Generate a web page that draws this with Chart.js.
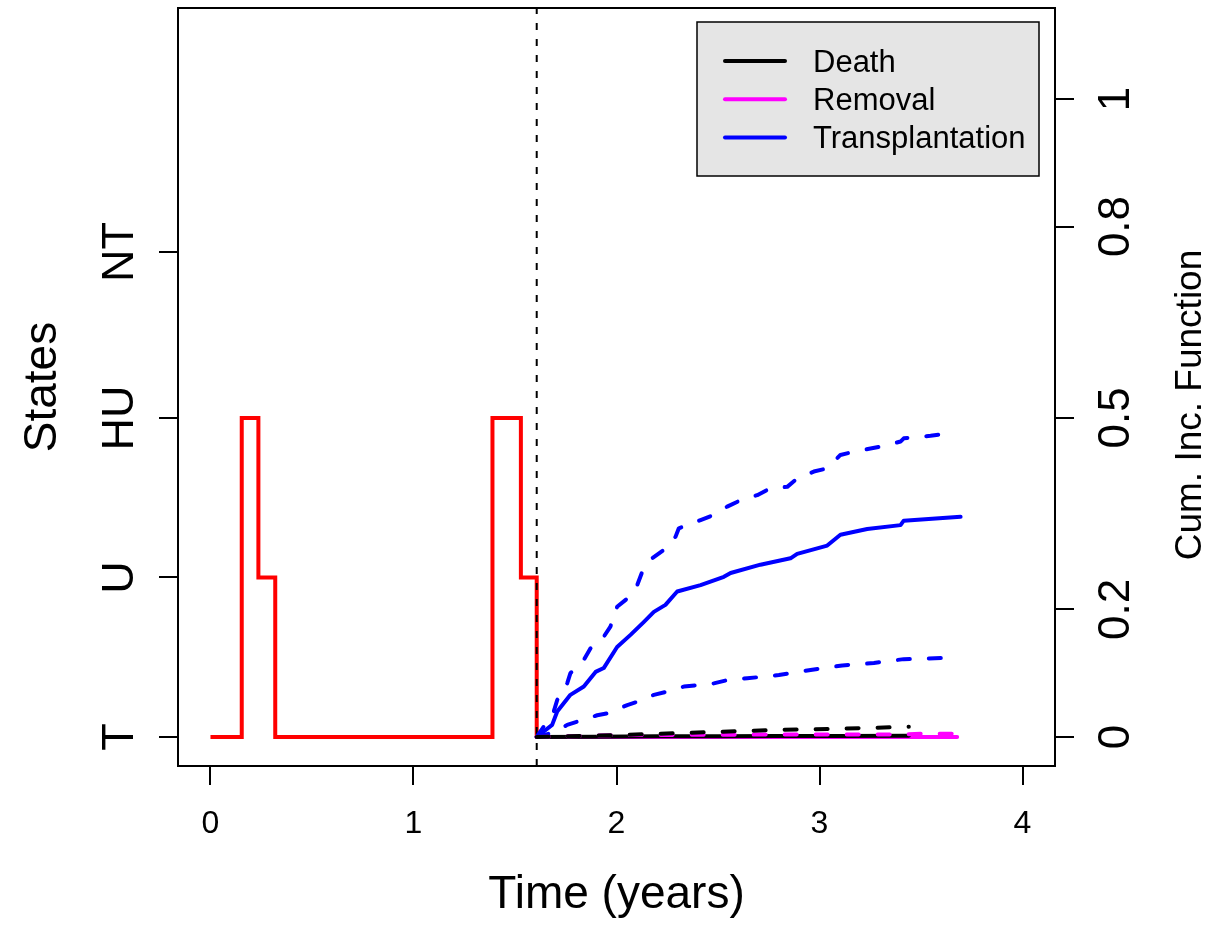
<!DOCTYPE html>
<html>
<head>
<meta charset="utf-8">
<script src="https://cdn.jsdelivr.net/npm/chart.js@4.4.1/dist/chart.umd.min.js"></script>
<style>
  body { margin: 0; background: #fff; }
  #wrap { width: 1216px; height: 928px; }
</style>
</head>
<body>
<div id="wrap"><canvas id="chart" width="1216" height="928"></canvas></div>
<script>
/*--------------------DATA--------------------*/
// observed state path of the patient (held until next change)
const pathTimes  = [0, 0.154, 0.236, 0.319, 1.389, 1.529, 1.607];
const pathStates = ['T', 'HU', 'U', 'T', 'HU', 'U', 'T'];

// where each state sits on the left axis
const stateNames  = ['T', 'U', 'HU', 'NT'];
const stateLevels = [0, 0.25, 0.5, 0.76];

// prediction time (dashed vertical)
const predTime = 1.607;

// cumulative incidence of transplantation + 95% band
const transTimes = [1.607, 1.683, 1.708, 1.773, 1.839, 1.897, 1.937, 2.003, 2.069, 2.134, 2.184, 2.241, 2.299, 2.414, 2.529, 2.562, 2.709, 2.857, 2.890, 3.038, 3.103, 3.235, 3.399, 3.415, 3.695];
const transCif   = [0, 0.019, 0.040, 0.066, 0.079, 0.102, 0.108, 0.141, 0.160, 0.180, 0.196, 0.207, 0.228, 0.238, 0.251, 0.257, 0.270, 0.280, 0.287, 0.300, 0.317, 0.326, 0.332, 0.339, 0.345];
const transUpTimes = [1.607, 1.691, 1.708, 1.757, 1.773, 1.839, 1.872, 1.937, 1.970, 2.003, 2.053, 2.102, 2.127, 2.176, 2.233, 2.291, 2.307, 2.414, 2.479, 2.545, 2.611, 2.693, 2.759, 2.841, 2.890, 2.972, 3.038, 3.103, 3.169, 3.251, 3.317, 3.399, 3.415, 3.547, 3.621];
const transUp      = [0, 0.040, 0.058, 0.084, 0.100, 0.121, 0.139, 0.157, 0.173, 0.204, 0.217, 0.238, 0.259, 0.280, 0.293, 0.314, 0.327, 0.340, 0.348, 0.361, 0.371, 0.379, 0.390, 0.392, 0.405, 0.416, 0.421, 0.442, 0.447, 0.452, 0.456, 0.463, 0.468, 0.472, 0.475];
const transLoTimes = [1.607, 1.700, 1.757, 1.806, 1.905, 1.954, 2.053, 2.102, 2.184, 2.250, 2.332, 2.479, 2.545, 2.644, 2.800, 2.956, 3.112, 3.268, 3.415, 3.645];
const transLo      = [0, 0.008, 0.019, 0.024, 0.034, 0.037, 0.050, 0.055, 0.066, 0.071, 0.079, 0.084, 0.089, 0.092, 0.097, 0.105, 0.112, 0.116, 0.122, 0.124];

// death
const deathTimes = [1.607, 1.9, 2.2, 2.5, 2.8, 3.1, 3.44];
const deathCif   = [0, 0.0005, 0.001, 0.001, 0.0015, 0.0015, 0.002];
const deathUp    = [0, 0.002, 0.005, 0.008, 0.011, 0.013, 0.016];

// removal
const removalTimes = [1.607, 2.0, 2.5, 3.0, 3.4, 3.5, 3.678];
const removalCif   = [0, 0, 0, 0, 0, 0, 0];
const removalUp    = [0, 0.003, 0.0035, 0.004, 0.004, 0.005, 0.005];

// axes
const xTicks = [0, 1, 2, 3, 4];
const cifTicks = [0, 0.2, 0.5, 0.8, 1];
const cifTickLabels = ['0', '0.2', '0.5', '0.8', '1'];

// legend
const legendLabels = ['Death', 'Removal', 'Transplantation'];
const legendColors = ['#000000', '#ff00ff', '#0000ff'];

/*--------------------CHART--------------------*/
const FONT = "'Liberation Sans', Arial, sans-serif";
const yMin = -0.0455, yMax = 1.1425;

const toXY = (ts, vs) => ts.map((t, i) => ({ x: t, y: vs[i] }));
const pathData = pathTimes.map((t, i) => ({ x: t, y: stateLevels[stateNames.indexOf(pathStates[i])] }));

function line(data, color, dashed, extra) {
    return Object.assign({
        data: data,
        borderColor: color,
        borderWidth: 4,
        borderDash: dashed ? [12, 19] : [],
        borderCapStyle: 'round',
        borderJoinStyle: 'round',
        pointRadius: 0,
        tension: 0,
        fill: false
    }, extra || {});
}

// listed from bottom to top
let datasets = [
    line(pathData, '#ff0000', false, { stepped: 'before', borderCapStyle: 'butt', borderJoinStyle: 'miter' }),
    line([{ x: predTime, y: yMin }, { x: predTime, y: yMax }], '#000000', false, { borderWidth: 2, borderDash: [7, 9], borderCapStyle: 'butt' }),
    line(toXY(transLoTimes, transLo), '#0000ff', true),
    line(toXY(transUpTimes, transUp), '#0000ff', true),
    line(toXY(transTimes, transCif), '#0000ff', false),
    line(toXY(removalTimes, removalCif), '#ff00ff', false),
    line(toXY(deathTimes, deathCif), '#000000', false),
    line(toXY(removalTimes, removalUp), '#ff00ff', true),
    line(toXY(deathTimes, deathUp), '#000000', true)
];
datasets.forEach((d, i) => { d.order = datasets.length - i; });

const framePlugin = {
    id: 'frame',
    afterDatasetsDraw(chart) {
        const ctx = chart.ctx, a = chart.chartArea;
        ctx.save();
        // plot box
        ctx.strokeStyle = '#000';
        ctx.lineWidth = 2;
        ctx.strokeRect(a.left, a.top, a.right - a.left, a.bottom - a.top);

        // legend box
        const w = 342, h = 154;
        const x0 = a.right - 16 - w, y0 = a.top + 14;
        ctx.fillStyle = '#e5e5e5';
        ctx.fillRect(x0, y0, w, h);
        ctx.lineWidth = 1.5;
        ctx.strokeRect(x0, y0, w, h);
        ctx.font = '31px ' + FONT;
        ctx.textAlign = 'left';
        ctx.textBaseline = 'alphabetic';
        legendLabels.forEach((lab, i) => {
            const y = y0 + 39 + i * 38.2;
            ctx.strokeStyle = legendColors[i];
            ctx.lineWidth = 4;
            ctx.lineCap = 'round';
            ctx.beginPath();
            ctx.moveTo(x0 + 28, y);
            ctx.lineTo(x0 + 88, y);
            ctx.stroke();
            ctx.fillStyle = '#000';
            ctx.fillText(lab, x0 + 116, y + 11);
        });

        // right axis title, reading upwards
        ctx.translate(a.right + 136, (a.top + a.bottom) / 2 + 18);
        ctx.rotate(-Math.PI / 2);
        ctx.font = '37px ' + FONT;
        ctx.textAlign = 'center';
        ctx.textBaseline = 'middle';
        ctx.fillStyle = '#000';
        ctx.fillText('Cum. Inc. Function', 0, 0);
        ctx.restore();
    }
};

// keep scales from reserving room for overhanging labels
function noPad(s) {
    s.paddingTop = 0;
    s.paddingBottom = 0;
    s.paddingLeft = 0;
    s.paddingRight = 0;
}

let chart = new Chart(document.getElementById('chart'), {
    type: 'line',
    data: { datasets: datasets },
    options: {
        responsive: false,
        animation: false,
        layout: { padding: { top: 8, left: 0, right: 0, bottom: 0 } },
        plugins: {
            legend: { display: false },
            tooltip: { enabled: false }
        },
        scales: {
            x: {
                type: 'linear',
                min: -0.16,
                max: 4.16,
                afterBuildTicks: (s) => { s.ticks = xTicks.map(v => ({ value: v })); },
                afterFit: (s) => { s.height = 162; noPad(s); },
                border: { display: false },
                grid: { drawOnChartArea: false, drawTicks: true, tickLength: 19, color: '#000', lineWidth: 2 },
                ticks: { color: '#000', font: { family: FONT, size: 32 }, padding: 20, maxRotation: 0, autoSkip: false },
                title: { display: true, text: 'Time (years)', color: '#000', font: { family: FONT, size: 46 }, padding: { top: 0, bottom: 5 } }
            },
            y: {
                type: 'linear',
                position: 'left',
                min: yMin,
                max: yMax,
                afterBuildTicks: (s) => { s.ticks = stateLevels.map(v => ({ value: v })); },
                afterFit: (s) => { s.width = 178; noPad(s); },
                border: { display: false },
                grid: { drawOnChartArea: false, drawTicks: true, tickLength: 19, color: '#000', lineWidth: 2 },
                ticks: {
                    color: '#000',
                    font: { family: FONT, size: 45 },
                    padding: 6,
                    minRotation: 90,
                    maxRotation: 90,
                    crossAlign: 'center',
                    autoSkip: false,
                    callback: (v) => stateNames[stateLevels.indexOf(v)]
                },
                title: { display: true, text: 'States', color: '#000', font: { family: FONT, size: 46 }, padding: { top: 16, bottom: 0 } }
            },
            y2: {
                type: 'linear',
                position: 'right',
                min: yMin,
                max: yMax,
                afterBuildTicks: (s) => { s.ticks = cifTicks.map(v => ({ value: v })); },
                afterFit: (s) => { s.width = 161; noPad(s); },
                border: { display: false },
                grid: { drawOnChartArea: false, drawTicks: true, tickLength: 19, color: '#000', lineWidth: 2 },
                ticks: {
                    color: '#000',
                    font: { family: FONT, size: 44 },
                    padding: 12,
                    minRotation: 90,
                    maxRotation: 90,
                    crossAlign: 'center',
                    autoSkip: false,
                    callback: (v) => cifTickLabels[cifTicks.indexOf(v)]
                }
            }
        }
    },
    plugins: [framePlugin]
});
</script>
</body>
</html>
